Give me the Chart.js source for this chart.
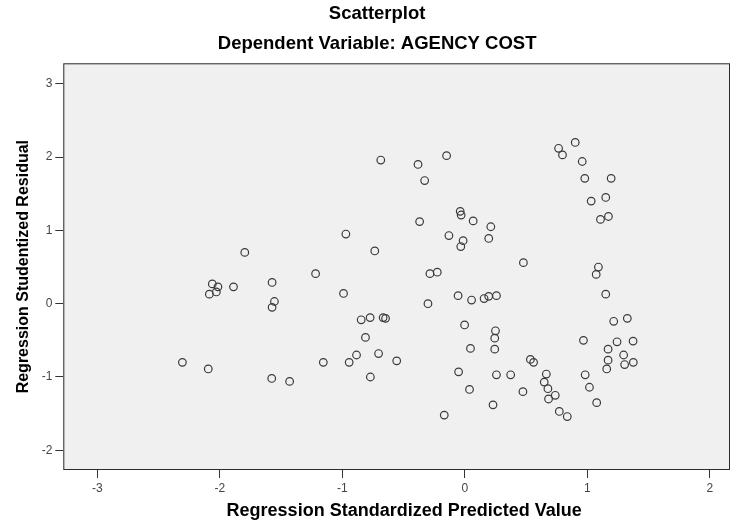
<!DOCTYPE html>
<html>
<head>
<meta charset="utf-8">
<script src="https://cdn.jsdelivr.net/npm/chart.js@4.4.1/dist/chart.umd.min.js"></script>
<style>
  html, body { margin: 0; padding: 0; background: #ffffff; }
  #wrap { width: 735px; height: 522px; }
</style>
</head>
<body>
<div id="wrap"><canvas id="c" width="735" height="522"></canvas></div>
<script>
const chartTitle = "Scatterplot";
const chartSubtitle = "Dependent Variable: AGENCY COST";
const xAxisTitle = "Regression Standardized Predicted Value";
const yAxisTitle = "Regression Studentized Residual";

const predictedValue = [
  -2.305, -2.094, -2.061, -2.015, -1.888, -2.085, -2.028, -1.796, -1.573, -1.554,
  -1.573, -1.576, -1.430, -1.218, -1.155, -0.990, -0.971, -0.944, -0.884, -0.846,
  -0.773, -0.811, -0.771, -0.735, -0.704, -0.686, -0.667, -0.647, -0.556, -0.382,
  -0.328, -0.149, -0.369, -0.285, -0.225, -0.301, -0.168, -0.130, -0.055, -0.051,
  -0.038, -0.030, -0.033, -0.014, -0.002, 0.038, 0.046, 0.055, 0.068, 0.157,
  0.195, 0.195, 0.212, 0.230, 0.244, 0.250, 0.244, 0.258, 0.258, 0.374,
  0.478, 0.474, 0.535, 0.561, 0.648, 0.665, 0.678, 0.683, 0.738, 0.771,
  0.836, 0.765, 0.797, 0.901, 0.958, 0.979, 1.194, 1.031, 1.150, 1.107,
  1.172, 1.090, 1.072, 1.150, 1.215, 1.326, 0.968, 1.242, 1.373, 1.169,
  1.296, 1.169, 1.304, 1.375, 1.158, 0.982, 1.017, 1.076
];
const studentizedResidual = [
  -0.80, -0.89, 0.27, 0.23, 0.23, 0.13, 0.16, 0.70, 0.29, 0.03,
  -0.05, -1.02, -1.06, 0.41, -0.80, 0.14, 0.95, -0.80, -0.70, -0.22,
  -0.19, -0.46, -1.00, 0.72, -0.68, 1.96, -0.19, -0.20, -0.78, 1.90,
  1.68, 2.02, 1.12, 0.41, 0.43, 0.00, -1.52, 0.93, 0.11, -0.93,
  1.26, 1.21, 0.78, 0.86, -0.29, -1.17, -0.61, 0.05, 1.13, 0.07,
  0.10, 0.89, 1.05, -1.38, -0.47, -0.37, -0.62, 0.11, -0.97, -0.97,
  0.56, -1.20, -0.76, -0.80, -1.07, -0.96, -1.16, -1.30, -1.25, -1.47,
  -1.54, 2.12, 2.03, 2.20, 1.94, 1.71, 1.71, 1.40, 1.45, 1.15,
  1.19, 0.50, 0.40, 0.13, -0.24, -0.20, -0.50, -0.52, -0.51, -0.62,
  -0.70, -0.77, -0.83, -0.80, -0.89, -0.97, -1.14, -1.35
];
const xTickValues = [-3, -2, -1, 0, 1, 2];
const yTickValues = [-2, -1, 0, 1, 2, 3];

const points = predictedValue.map((x, i) => ({ x: x, y: studentizedResidual[i] }));

const plotFrame = {
  id: 'plotFrame',
  afterLayout(chart) {
    const s = chart.scales.x;
    if (s && !s._titleShifted) {
      const orig = s.drawTitle;
      s.drawTitle = function () {
        this.ctx.save();
        this.ctx.translate(7.5, 0);
        orig.call(this);
        this.ctx.restore();
      };
      s._titleShifted = true;
    }
  },
  beforeDatasetsDraw(chart) {
    const { ctx, chartArea: a } = chart;
    ctx.save();
    ctx.fillStyle = '#f0f0f0';
    ctx.fillRect(a.left, a.top, a.right - a.left, a.bottom - a.top);
    ctx.strokeStyle = '#2b2b2b';
    ctx.lineWidth = 1;
    ctx.strokeRect(a.left + 0.5, a.top + 0.5, a.right - a.left - 1, a.bottom - a.top - 1);
    ctx.restore();
  }
};

new Chart(document.getElementById('c'), {
  type: 'scatter',
  data: {
    datasets: [{
      data: points,
      pointStyle: 'circle',
      pointRadius: 3.8,
      pointHoverRadius: 3.8,
      pointBorderWidth: 1.2,
      borderColor: '#3a3a3a',
      backgroundColor: 'rgba(0,0,0,0)'
    }]
  },
  options: {
    responsive: false,
    animation: false,
    events: [],
    layout: { padding: { left: 22.3, right: 3, top: 0, bottom: 0 } },
    plugins: {
      legend: { display: false },
      tooltip: { enabled: false },
      title: {
        display: true,
        text: chartTitle,
        color: '#000',
        font: { family: 'Liberation Sans, Arial, sans-serif', size: 18.5, weight: 'bold', lineHeight: 1.2 },
        padding: { top: 3, bottom: 7.7 }
      },
      subtitle: {
        display: true,
        text: chartSubtitle,
        color: '#000',
        font: { family: 'Liberation Sans, Arial, sans-serif', size: 18.5, weight: 'bold', lineHeight: 1.2 },
        padding: { top: 0, bottom: 8.2 }
      }
    },
    scales: {
      x: {
        type: 'linear',
        min: -3.277,
        max: 2.164,
        afterFit(s) { s.height = 52; },
        afterBuildTicks(s) { s.ticks = xTickValues.map(v => ({ value: v })); },
        border: { display: false },
        grid: { drawOnChartArea: false, drawTicks: true, tickLength: 8, color: '#333', lineWidth: 1 },
        ticks: {
          color: '#444',
          padding: 3,
          maxRotation: 0,
          font: { family: 'Liberation Sans, Arial, sans-serif', size: 12 },
          callback: v => String(v)
        },
        title: {
          display: true,
          text: xAxisTitle,
          color: '#000',
          font: { family: 'Liberation Sans, Arial, sans-serif', size: 18, weight: 'bold', lineHeight: 1.2 },
          padding: { top: 0, bottom: 0 }
        }
      },
      y: {
        type: 'linear',
        min: -2.269,
        max: 3.280,
        afterFit(s) { s.width = 41; },
        afterBuildTicks(s) { s.ticks = yTickValues.map(v => ({ value: v })); },
        border: { display: false },
        grid: { drawOnChartArea: false, drawTicks: true, tickLength: 8, color: '#333', lineWidth: 1 },
        ticks: {
          color: '#444',
          padding: 3,
          font: { family: 'Liberation Sans, Arial, sans-serif', size: 12 },
          callback: v => String(v)
        },
        title: {
          display: true,
          text: yAxisTitle,
          color: '#000',
          font: { family: 'Liberation Sans, Arial, sans-serif', size: 16, weight: 'bold', lineHeight: 1.2 },
          padding: { top: -8, bottom: 0 }
        }
      }
    }
  },
  plugins: [plotFrame]
});
</script>
</body>
</html>
